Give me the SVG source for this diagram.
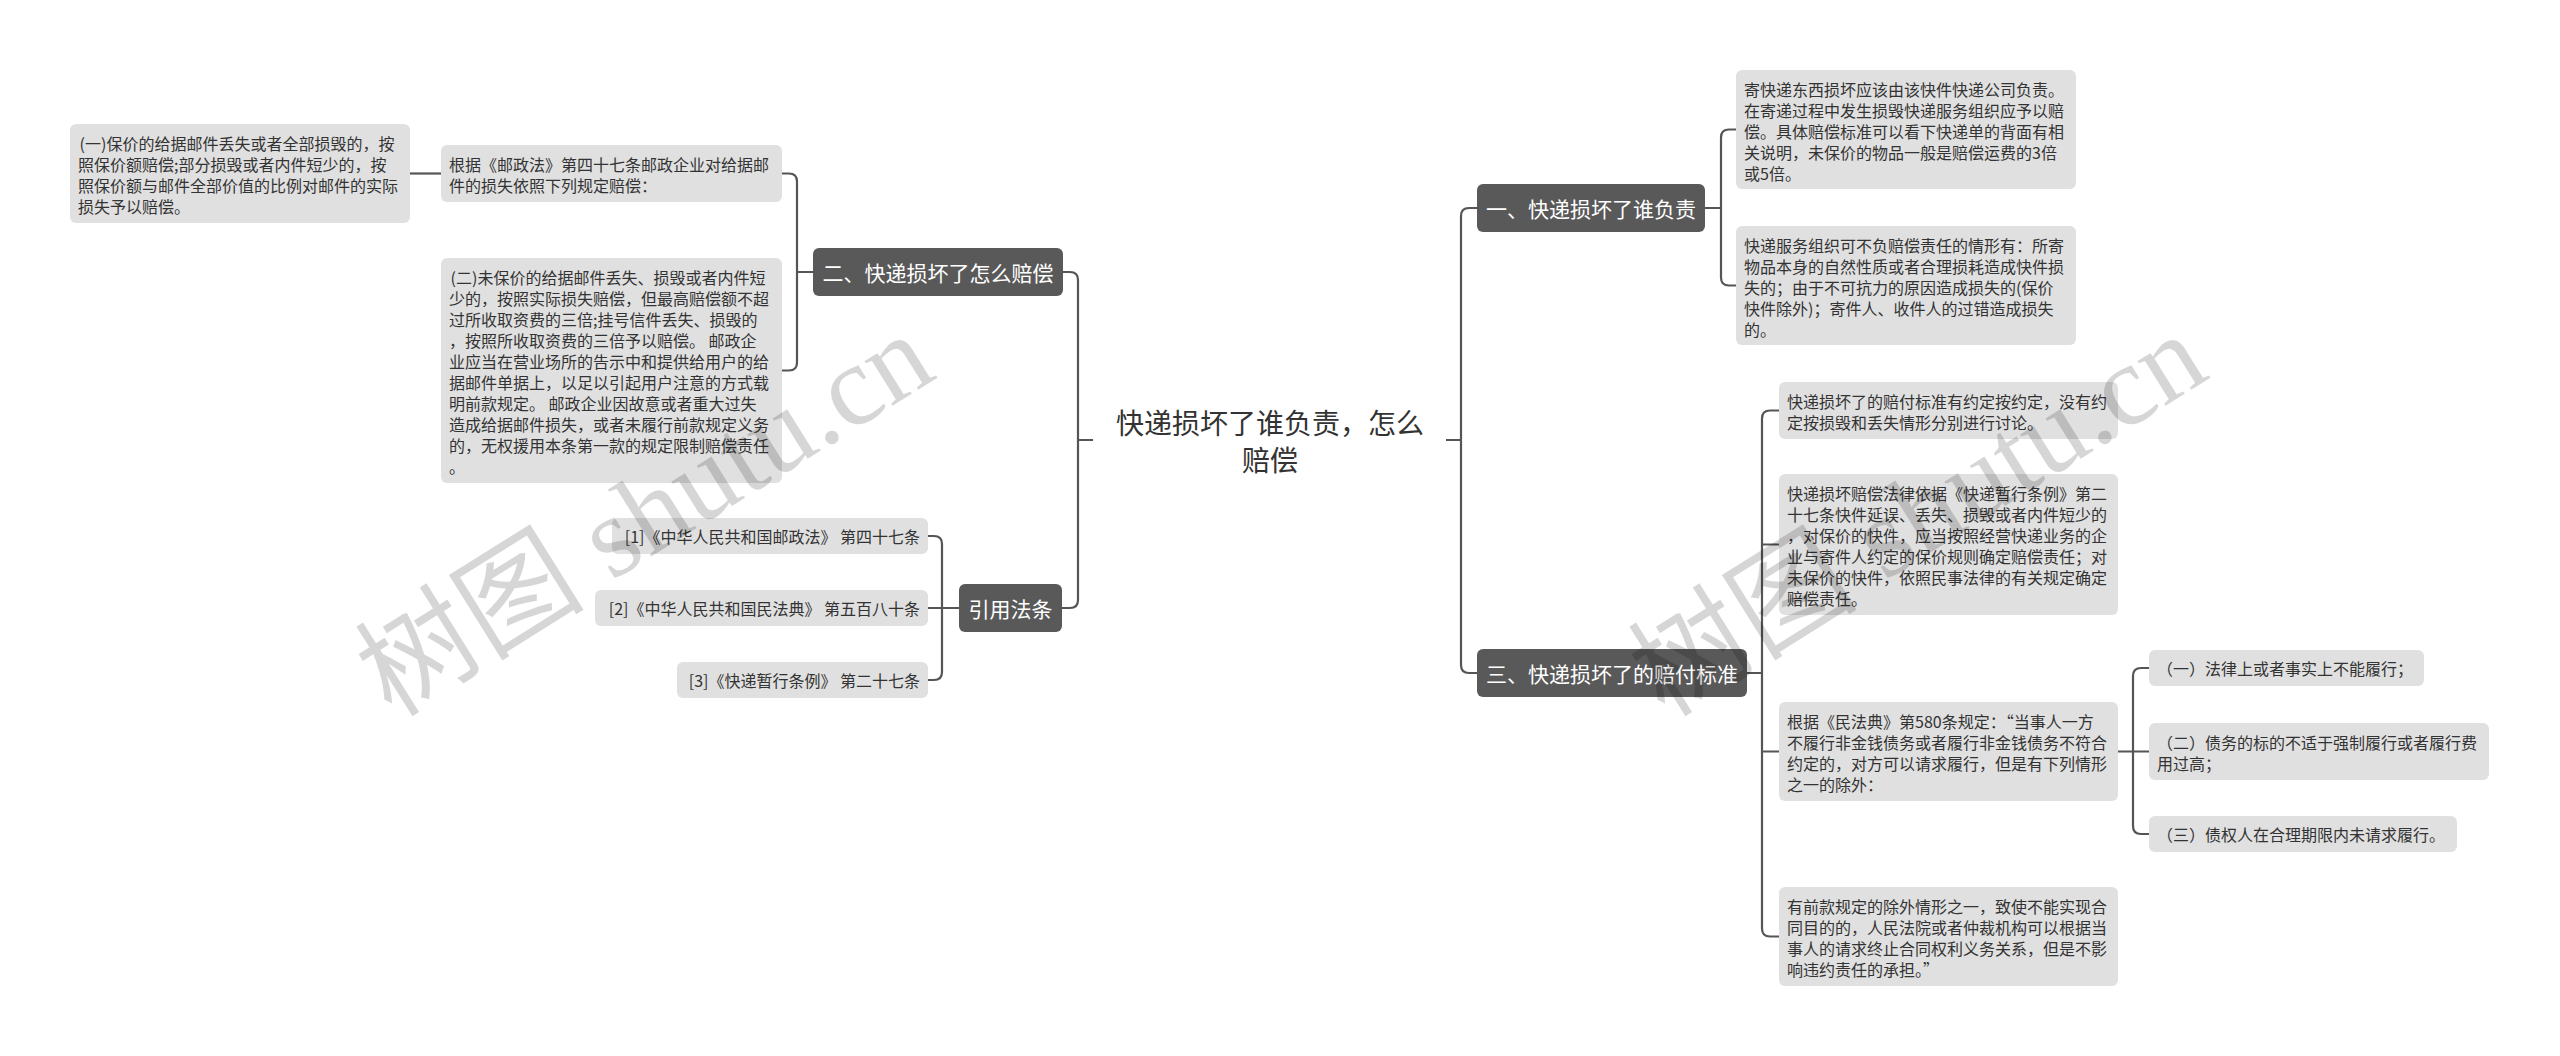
<svg xmlns="http://www.w3.org/2000/svg" width="2560" height="1056" viewBox="0 0 2560 1056">
<style>
.bg{fill:#ffffff}
.main rect{fill:#595959}
.main text{fill:#ffffff;font-size:21px;text-anchor:middle;dominant-baseline:central}
.leaf rect{fill:#e0e0e0}
.leaf text{fill:#333333;font-size:16px;dominant-baseline:central;white-space:pre}
text{font-family:"Noto Sans CJK SC","Liberation Sans",sans-serif}
.root text{fill:#333333;font-size:28px;text-anchor:middle;dominant-baseline:central}
.conn path{fill:none;stroke:#555555;stroke-width:2.2}
.wm{font-family:"Liberation Serif","Noto Sans CJK SC",serif;font-size:115px;fill:#000000;fill-opacity:0.16;text-anchor:middle;dominant-baseline:central}
</style>
<rect class="bg" x="0" y="0" width="2560" height="1056"/>

<g id="connectors" class="conn">
  <path d="M1093 440 H1078 M1063 272 H1070 Q1078 272 1078 280 V600 Q1078 608 1070 608 H1062"/>
  <path d="M1446 440 H1461 M1477 208 H1469 Q1461 208 1461 216 V665 Q1461 673 1469 673 H1477"/>
  <path d="M813 272 H797 M782 173.5 H789 Q797 173.5 797 181.5 V362.5 Q797 370.5 789 370.5 H782"/>
  <path d="M441 173.5 H410"/>
  <path d="M959 608 H942 M928 536 H934 Q942 536 942 544 V672 Q942 680 934 680 H928 M928 608 H942"/>
  <path d="M1705 208 H1721 M1736 129.5 H1729 Q1721 129.5 1721 137.5 V277.5 Q1721 285.5 1729 285.5 H1736"/>
  <path d="M1747 673 H1762 M1779 410.5 H1770 Q1762 410.5 1762 418.5 V928.5 Q1762 936.5 1770 936.5 H1779 M1762 544.5 H1779 M1762 751.5 H1779"/>
  <path d="M2118 751.5 H2133 M2149 668 H2141 Q2133 668 2133 676 V826 Q2133 834 2141 834 H2149 M2133 751.5 H2149"/>
</g>

<g id="root" class="root">
  <text x="1270" y="422">快递损坏了谁负责，怎么</text>
  <text x="1270" y="459">赔偿</text>
</g>

<g id="n2" class="main"><rect x="813" y="248" width="250" height="48" rx="6"/><text x="938" y="272">二、快递损坏了怎么赔偿</text></g>
<g id="n4" class="main"><rect x="959" y="584" width="103" height="48" rx="6"/><text x="1010.5" y="608">引用法条</text></g>
<g id="n1" class="main"><rect x="1477" y="184" width="228" height="48" rx="6"/><text x="1591" y="208">一、快递损坏了谁负责</text></g>
<g id="n3" class="main"><rect x="1477" y="649" width="270" height="48" rx="6"/><text x="1612" y="673">三、快递损坏了的赔付标准</text></g>

<g id="l1" class="leaf"><rect x="70" y="124" width="340" height="99" rx="6"/>
<text x="76" y="143" xml:space="preserve"> (一)保价的给据邮件丢失或者全部损毁的，按</text>
<text x="78" y="164">照保价额赔偿;部分损毁或者内件短少的，按</text>
<text x="78" y="185">照保价额与邮件全部价值的比例对邮件的实际</text>
<text x="78" y="206">损失予以赔偿。</text></g>

<g id="l2" class="leaf"><rect x="441" y="145" width="341" height="57" rx="6"/>
<text x="449" y="164">根据《邮政法》第四十七条邮政企业对给据邮</text>
<text x="449" y="185">件的损失依照下列规定赔偿：</text></g>

<g id="l3" class="leaf"><rect x="441" y="258" width="341" height="225" rx="6"/>
<text x="447" y="277" xml:space="preserve"> (二)未保价的给据邮件丢失、损毁或者内件短</text>
<text x="449" y="298">少的，按照实际损失赔偿，但最高赔偿额不超</text>
<text x="449" y="319">过所收取资费的三倍;挂号信件丢失、损毁的</text>
<text x="449" y="340" xml:space="preserve">，按照所收取资费的三倍予以赔偿。 邮政企</text>
<text x="449" y="361">业应当在营业场所的告示中和提供给用户的给</text>
<text x="449" y="382">据邮件单据上，以足以引起用户注意的方式载</text>
<text x="449" y="403" xml:space="preserve">明前款规定。 邮政企业因故意或者重大过失</text>
<text x="449" y="424">造成给据邮件损失，或者未履行前款规定义务</text>
<text x="449" y="445">的，无权援用本条第一款的规定限制赔偿责任</text>
<text x="449" y="466">。</text></g>

<g id="c1" class="leaf"><rect x="612" y="518" width="316" height="36" rx="6"/><text x="920" y="536" text-anchor="end">[1]《中华人民共和国邮政法》 第四十七条</text></g>
<g id="c2" class="leaf"><rect x="595" y="590" width="333" height="36" rx="6"/><text x="920" y="608" text-anchor="end">[2]《中华人民共和国民法典》 第五百八十条</text></g>
<g id="c3" class="leaf"><rect x="677" y="662" width="251" height="36" rx="6"/><text x="920" y="680" text-anchor="end">[3]《快递暂行条例》 第二十七条</text></g>

<g id="r1" class="leaf"><rect x="1736" y="70" width="340" height="119" rx="6"/>
<text x="1744" y="89">寄快递东西损坏应该由该快件快递公司负责。</text>
<text x="1744" y="110">在寄递过程中发生损毁快递服务组织应予以赔</text>
<text x="1744" y="131">偿。具体赔偿标准可以看下快递单的背面有相</text>
<text x="1744" y="152">关说明，未保价的物品一般是赔偿运费的3倍</text>
<text x="1744" y="173">或5倍。</text></g>

<g id="r2" class="leaf"><rect x="1736" y="226" width="340" height="119" rx="6"/>
<text x="1744" y="245">快递服务组织可不负赔偿责任的情形有：所寄</text>
<text x="1744" y="266">物品本身的自然性质或者合理损耗造成快件损</text>
<text x="1744" y="287">失的；由于不可抗力的原因造成损失的(保价</text>
<text x="1744" y="308">快件除外)；寄件人、收件人的过错造成损失</text>
<text x="1744" y="329">的。</text></g>

<g id="r3" class="leaf"><rect x="1779" y="382" width="339" height="57" rx="6"/>
<text x="1787" y="401">快递损坏了的赔付标准有约定按约定，没有约</text>
<text x="1787" y="422">定按损毁和丢失情形分别进行讨论。</text></g>

<g id="r4" class="leaf"><rect x="1779" y="474" width="339" height="141" rx="6"/>
<text x="1787" y="493">快递损坏赔偿法律依据《快递暂行条例》第二</text>
<text x="1787" y="514">十七条快件延误、丢失、损毁或者内件短少的</text>
<text x="1787" y="535">，对保价的快件，应当按照经营快递业务的企</text>
<text x="1787" y="556">业与寄件人约定的保价规则确定赔偿责任；对</text>
<text x="1787" y="577">未保价的快件，依照民事法律的有关规定确定</text>
<text x="1787" y="598">赔偿责任。</text></g>

<g id="r5" class="leaf"><rect x="1779" y="702" width="339" height="99" rx="6"/>
<text x="1787" y="721">根据《民法典》第580条规定：“当事人一方</text>
<text x="1787" y="742">不履行非金钱债务或者履行非金钱债务不符合</text>
<text x="1787" y="763">约定的，对方可以请求履行，但是有下列情形</text>
<text x="1787" y="784">之一的除外：</text></g>

<g id="r6" class="leaf"><rect x="1779" y="887" width="339" height="99" rx="6"/>
<text x="1787" y="906">有前款规定的除外情形之一，致使不能实现合</text>
<text x="1787" y="927">同目的的，人民法院或者仲裁机构可以根据当</text>
<text x="1787" y="948">事人的请求终止合同权利义务关系，但是不影</text>
<text x="1787" y="969">响违约责任的承担。”</text></g>

<g id="s1" class="leaf"><rect x="2149" y="650" width="275" height="36" rx="6"/><text x="2157" y="668">（一）法律上或者事实上不能履行；</text></g>
<g id="s2" class="leaf"><rect x="2149" y="723" width="340" height="57" rx="6"/>
<text x="2157" y="742">（二）债务的标的不适于强制履行或者履行费</text>
<text x="2157" y="763">用过高；</text></g>
<g id="s3" class="leaf"><rect x="2149" y="816" width="308" height="36" rx="6"/><text x="2157" y="834">（三）债权人在合理期限内未请求履行。</text></g>

<text class="wm" transform="translate(645 515) rotate(-32)">树图 shutu.cn</text>
<text class="wm" transform="translate(1918 515) rotate(-32)">树图 shutu.cn</text>
</svg>
